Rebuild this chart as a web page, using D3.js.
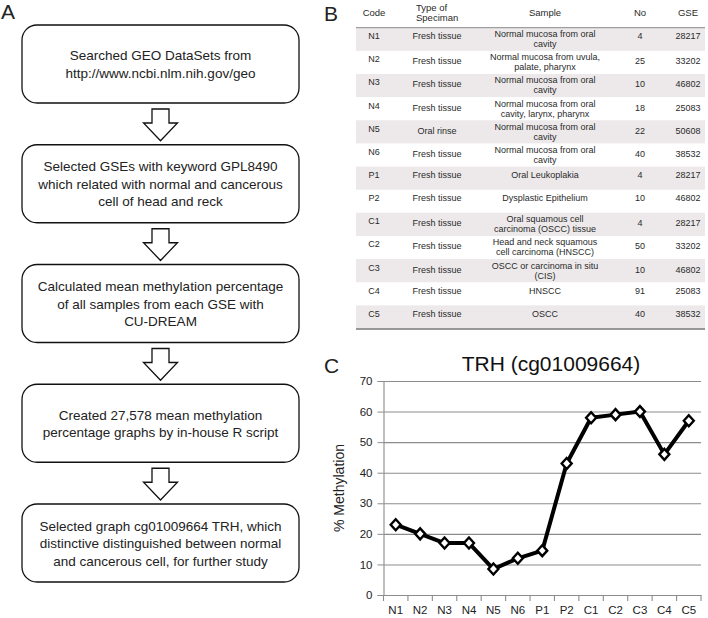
<!DOCTYPE html>
<html>
<head>
<meta charset="utf-8">
<script src="https://cdn.jsdelivr.net/npm/d3@7"></script>
<style>
  html, body { margin: 0; padding: 0; background: #fff; }
  svg { display: block; font-family: "Liberation Sans", Arial, Helvetica, sans-serif; }
</style>
</head>
<body>
<svg id="fig" width="708" height="618"></svg>
<script>
// ---------- DATA ----------
const flowSteps = [
  ["Searched GEO DataSets from", "http://www.ncbi.nlm.nih.gov/geo"],
  ["Selected GSEs with keyword GPL8490", "which related with normal and cancerous", "cell of head and reck"],
  ["Calculated mean methylation percentage", "of all samples from each GSE with", "CU-DREAM"],
  ["Created 27,578 mean methylation", "percentage graphs by in-house R script"],
  ["Selected graph cg01009664 TRH, which", "distinctive distinguished between normal", "and cancerous cell, for further study"]
];

const tableHeaders = [["Code"], ["Type of", "Speciman"], ["Sample"], ["No"], ["GSE"]];
const codes = ["N1", "N2", "N3", "N4", "N5", "N6", "P1", "P2", "C1", "C2", "C3", "C4", "C5"];
const specimenTypes = ["Fresh tissue", "Fresh tissue", "Fresh tissue", "Fresh tissue", "Oral rinse", "Fresh tissue",
  "Fresh tissue", "Fresh tissue", "Fresh tissue", "Fresh tissue", "Fresh tissue", "Fresh tissue", "Fresh tissue"];
const samples = [
  ["Normal mucosa from oral", "cavity"],
  ["Normal mucosa from uvula,", "palate, pharynx"],
  ["Normal mucosa from oral", "cavity"],
  ["Normal mucosa from oral", "cavity, larynx, pharynx"],
  ["Normal mucosa from oral", "cavity"],
  ["Normal mucosa from oral", "cavity"],
  ["Oral Leukoplakia"],
  ["Dysplastic Epithelium"],
  ["Oral squamous cell", "carcinoma (OSCC) tissue"],
  ["Head and neck squamous", "cell carcinoma (HNSCC)"],
  ["OSCC or carcinoma in situ", "(CIS)"],
  ["HNSCC"],
  ["OSCC"]
];
const sampleSizes = ["4", "25", "10", "18", "22", "40", "4", "10", "4", "50", "10", "91", "40"];
const gseIds = ["28217", "33202", "46802", "25083", "50608", "38532", "28217", "46802", "28217", "33202", "46802", "25083", "38532"];

const chartTitle = "TRH (cg01009664)";
const methylation = [23, 20, 17, 17, 8.5, 12, 14.5, 43, 58, 59, 60, 46, 57];
const yTicks = [0, 10, 20, 30, 40, 50, 60, 70];
const yLabel = "% Methylation";

// ---------- DRAW ----------
const svg = d3.select("#fig");

// Panel letters
const panelLetters = [["A", 1, 19], ["B", 324, 21], ["C", 324, 373]];
svg.selectAll("text.panel").data(panelLetters).join("text")
  .attr("class", "panel")
  .attr("x", d => d[1]).attr("y", d => d[2])
  .attr("font-size", 21).attr("fill", "#222")
  .text(d => d[0]);

// ---------- A: flowchart ----------
const boxX0 = 22, boxX1 = 299, boxH = 78;
const boxTop = d3.scaleLinear().domain([0, 4]).range([25, 504]);
const gFlow = svg.append("g");
const boxes = gFlow.selectAll("g.box").data(flowSteps).join("g").attr("class", "box");
boxes.append("rect")
  .attr("x", boxX0).attr("y", (d, i) => boxTop(i))
  .attr("width", boxX1 - boxX0).attr("height", boxH)
  .attr("rx", 15).attr("ry", 15)
  .attr("fill", "#fff").attr("stroke", "#111").attr("stroke-width", 1.3);
boxes.each(function(d, i) {
  const n = d.length, lh = 17.5;
  const cy = boxTop(i) + boxH / 2;
  d3.select(this).selectAll("text").data(d).join("text")
    .attr("x", (boxX0 + boxX1) / 2)
    .attr("y", (t, j) => cy + (j - (n - 1) / 2) * lh + 5)
    .attr("text-anchor", "middle")
    .attr("font-size", 13.5).attr("fill", "#222")
    .text(t => t);
});
// arrows between boxes
const cxA = 160.5;
const arrows = d3.range(4);
gFlow.selectAll("path.arrow").data(arrows).join("path")
  .attr("class", "arrow")
  .attr("d", i => {
    const top = boxTop(i) + boxH + 6;
    const tip = boxTop(i + 1) - 4;
    const base = top + 14;
    const sw = 8.5, hw = 17;
    return `M${cxA - sw},${top} L${cxA + sw},${top} L${cxA + sw},${base} L${cxA + hw},${base} L${cxA},${tip} L${cxA - hw},${base} L${cxA - sw},${base} Z`;
  })
  .attr("fill", "#fff").attr("stroke", "#111").attr("stroke-width", 1.3)
  .attr("stroke-linejoin", "miter");

// ---------- B: table ----------
const tX0 = 356, tX1 = 705;
const headerLineY = 27.7, tableBottom = 328.5;
const rowY = d3.scaleBand().domain(codes).range([headerLineY, tableBottom]);
const colX = { code: 374, type: 437, sample: 545, no: 640, gse: 688 };
const gT = svg.append("g").attr("font-size", 9).attr("fill", "#2a2a2a");

gT.selectAll("rect.row").data(codes.filter((c, i) => i % 2 === 0)).join("rect")
  .attr("class", "row")
  .attr("x", tX0).attr("y", c => rowY(c))
  .attr("width", tX1 - tX0).attr("height", rowY.bandwidth())
  .attr("fill", "#ede9ea");

// header
const headerX = [colX.code, 416, colX.sample, colX.no, colX.gse];
const headerAnchor = ["middle", "start", "middle", "middle", "middle"];
tableHeaders.forEach((h, k) => {
  gT.selectAll(null).data(h).join("text")
    .attr("x", headerX[k])
    .attr("y", (t, j) => h.length === 1 ? 15.5 : 11 + j * 10)
    .attr("text-anchor", headerAnchor[k])
    .attr("font-size", 9.5)
    .text(t => t);
});
gT.append("line").attr("x1", tX0).attr("x2", tX1).attr("y1", headerLineY).attr("y2", headerLineY)
  .attr("stroke", "#8a8a8a").attr("stroke-width", 1);
gT.append("line").attr("x1", tX0).attr("x2", tX1).attr("y1", tableBottom + 0.5).attr("y2", tableBottom + 0.5)
  .attr("stroke", "#777").attr("stroke-width", 1.6);

const rows = gT.selectAll("g.trow").data(codes).join("g").attr("class", "trow");
rows.append("text").attr("x", colX.code).attr("y", c => rowY(c) + 11.5).attr("text-anchor", "middle").text(c => c);
rows.append("text").attr("x", colX.type).attr("y", (c, i) => rowY(c) + (samples[i].length > 1 && i !== 0 ? 13.5 : 11.5))
  .attr("text-anchor", "middle").text((c, i) => specimenTypes[i]);
rows.append("text").attr("x", colX.no).attr("y", (c, i) => rowY(c) + (samples[i].length > 1 && i !== 0 ? 13.5 : 11.5))
  .attr("text-anchor", "middle").text((c, i) => sampleSizes[i]);
rows.append("text").attr("x", colX.gse).attr("y", (c, i) => rowY(c) + (samples[i].length > 1 && i !== 0 ? 13.5 : 11.5))
  .attr("text-anchor", "middle").text((c, i) => gseIds[i]);
rows.each(function(c, i) {
  const s = samples[i];
  d3.select(this).selectAll("text.samp").data(s).join("text")
    .attr("class", "samp")
    .attr("x", colX.sample)
    .attr("y", (t, j) => rowY(c) + 9.5 + j * 10 + (s.length === 1 ? 2 : 0))
    .attr("text-anchor", "middle")
    .text(t => t);
});

// ---------- C: line chart ----------
const x = d3.scaleBand().domain(codes).range([383.5, 701]);
const y = d3.scaleLinear().domain([0, 70]).range([595, 381]);
const gC = svg.append("g");

gC.append("text").attr("x", 551).attr("y", 371).attr("text-anchor", "middle")
  .attr("font-size", 21).attr("fill", "#111").text(chartTitle);

// gridlines
gC.append("g").attr("transform", "translate(383.5,0)")
  .call(d3.axisLeft(y).tickValues(yTicks).tickSize(-(701 - 383.5)).tickFormat(""))
  .call(g => g.select(".domain").remove())
  .call(g => g.selectAll("line").attr("stroke", "#8c8c8c").attr("stroke-width", 1.1));

// y axis
gC.append("g").attr("transform", "translate(383.5,0)")
  .call(d3.axisLeft(y).tickValues(yTicks).tickSize(6).tickPadding(5))
  .call(g => g.select(".domain").attr("stroke", "#8c8c8c").attr("stroke-width", 1.1))
  .call(g => g.selectAll("line").attr("stroke", "#8c8c8c"))
  .call(g => g.selectAll("text").attr("font-size", 11.5).attr("fill", "#222")
    .attr("font-family", "'Liberation Sans', Arial, sans-serif"));

// x axis
gC.append("g").attr("transform", "translate(0,595)")
  .call(d3.axisBottom(x).tickSize(0).tickPadding(11))
  .call(g => g.select(".domain").attr("stroke", "#8c8c8c").attr("stroke-width", 1.1))
  .call(g => g.selectAll("text").attr("font-size", 11.5).attr("fill", "#222")
    .attr("font-family", "'Liberation Sans', Arial, sans-serif"));
const boundaries = codes.map(c => x(c)).concat([x.range()[1]]);
gC.selectAll("line.xtick").data(boundaries).join("line")
  .attr("class", "xtick")
  .attr("x1", d => d).attr("x2", d => d).attr("y1", 595).attr("y2", 601)
  .attr("stroke", "#8c8c8c").attr("stroke-width", 1.1);

// y label
gC.append("text").attr("transform", "translate(344,488) rotate(-90)")
  .attr("text-anchor", "middle").attr("font-size", 14).attr("fill", "#222").text(yLabel);

// line
const line = d3.line().x((d, i) => x(codes[i]) + x.bandwidth() / 2).y(d => y(d));
gC.append("path").datum(methylation).attr("d", line)
  .attr("fill", "none").attr("stroke", "#000").attr("stroke-width", 4).attr("stroke-linejoin", "round");

// markers
gC.selectAll("path.mk").data(methylation).join("path")
  .attr("class", "mk")
  .attr("transform", (d, i) => `translate(${x(codes[i]) + x.bandwidth() / 2},${y(d)})`)
  .attr("d", "M0,-5.5 L5,0 L0,5.5 L-5,0 Z")
  .attr("fill", "#fff").attr("stroke", "#000").attr("stroke-width", 2.4);
</script>
</body>
</html>
